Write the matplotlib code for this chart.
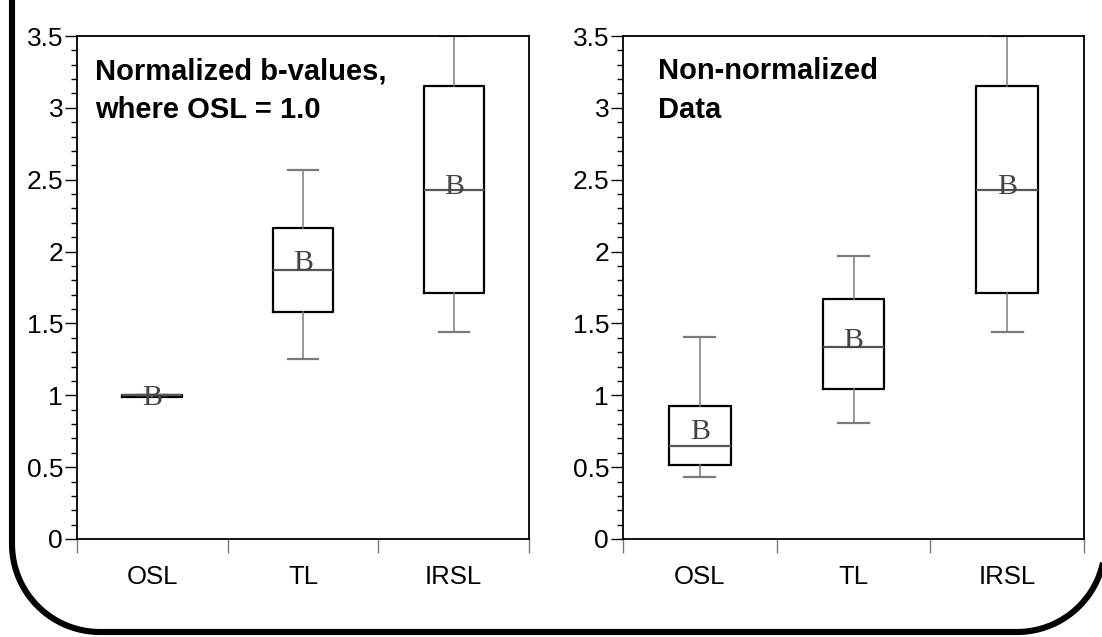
import matplotlib
matplotlib.use("Agg")
import numpy as np
import matplotlib.pyplot as plt
from matplotlib.patches import PathPatch
from matplotlib.path import Path
from matplotlib.transforms import IdentityTransform
from matplotlib.ticker import MultipleLocator, FixedLocator, NullFormatter, FixedFormatter

plt.rcParams['font.family'] = ['Liberation Sans', 'DejaVu Sans']

categories = ["OSL", "TL", "IRSL"]

# Panel 1: normalized b-values (OSL = 1.0)
norm_whislo = [1.00, 1.25, 1.44]
norm_q1 = [0.99, 1.58, 1.71]
norm_med = [1.00, 1.87, 2.43]
norm_q3 = [1.00, 2.165, 3.155]
norm_whishi = [1.00, 2.565, 3.50]
norm_mean = [1.00, 1.94, 2.47]

# Panel 2: non-normalized data
raw_whislo = [0.43, 0.81, 1.44]
raw_q1 = [0.515, 1.045, 1.71]
raw_med = [0.65, 1.335, 2.43]
raw_q3 = [0.925, 1.67, 3.155]
raw_whishi = [1.405, 1.97, 3.50]
raw_mean = [0.765, 1.40, 2.47]

titles = ["Normalized b-values,\nwhere OSL = 1.0", "Non-normalized\nData"]
yticks = [0, 0.5, 1, 1.5, 2, 2.5, 3, 3.5]
ytick_labels = ["0", "0.5", "1", "1.5", "2", "2.5", "3", "3.5"]

W, H = 1102, 637
fig = plt.figure(figsize=(W / 100, H / 100), dpi=100)

ax_rects = [
    (77 / W, 1 - 539 / H, 452 / W, 503 / H),
    (623 / W, 1 - 539 / H, 461 / W, 503 / H),
]
title_x = [18 / 452, 35 / 461]

panels = [
    (norm_whislo, norm_q1, norm_med, norm_q3, norm_whishi, norm_mean),
    (raw_whislo, raw_q1, raw_med, raw_q3, raw_whishi, raw_mean),
]

for i, (rect, data) in enumerate(zip(ax_rects, panels)):
    ax = fig.add_axes(rect)
    lo, q1, med, q3, hi, mean = data
    stats = []
    for k, name in enumerate(categories):
        stats.append(dict(label=name, whislo=lo[k], q1=q1[k], med=med[k],
                          q3=q3[k], whishi=hi[k], fliers=[]))
    positions = [k + 0.5 for k in range(len(categories))]
    ax.bxp(stats, positions=positions, widths=0.4, showfliers=False,
           boxprops=dict(color='black', linewidth=1.6),
           medianprops=dict(color='#555555', linewidth=1.6),
           whiskerprops=dict(color='#7a7a7a', linewidth=1.1),
           capprops=dict(color='#7a7a7a', linewidth=1.6),
           capwidths=0.2, manage_ticks=False)
    for k in range(len(categories)):
        ax.text(positions[k], mean[k], "B", ha='center', va='center_baseline',
                fontsize=21.5, color='#444444', family=['Liberation Serif', 'DejaVu Serif'],
                zorder=5)
    ax.set_xlim(0, 3)
    ax.set_ylim(0, 3.5)
    # y axis
    ax.yaxis.set_major_locator(FixedLocator(yticks))
    ax.yaxis.set_major_formatter(FixedFormatter(ytick_labels))
    ax.yaxis.set_minor_locator(MultipleLocator(0.1))
    ax.tick_params(axis='y', which='major', direction='out', length=9, width=1.0,
                   labelsize=19, pad=1, colors='black')
    ax.tick_params(axis='y', which='minor', direction='out', length=4.5, width=1.0,
                   colors='black')
    # x axis: boundaries as major ticks, labels at category centers
    ax.xaxis.set_major_locator(FixedLocator([0, 1, 2, 3]))
    ax.xaxis.set_major_formatter(NullFormatter())
    ax.xaxis.set_minor_locator(FixedLocator(positions))
    ax.xaxis.set_minor_formatter(FixedFormatter(categories))
    ax.tick_params(axis='x', which='major', direction='out', length=10, width=1.0,
                   color='#777777')
    ax.tick_params(axis='x', which='minor', length=0, labelsize=18.5, pad=18.5)
    for s in ax.spines.values():
        s.set_linewidth(1.3)
        s.set_color('black')
    ax.text(title_x[i], 0.958, titles[i], transform=ax.transAxes, ha='left', va='top',
            fontsize=21, fontweight='bold', linespacing=1.5)

# Rounded outer frame, open at the top (pixel coordinates, y measured from top)
xl, xr, yb, r = 12, 1105, 632, 88
t1 = np.linspace(np.pi, 1.5 * np.pi, 30)
t2 = np.linspace(1.5 * np.pi, 2 * np.pi, 30)
pts = [(xl, -20), (xl, yb - r)]
pts += [(xl + r + r * np.cos(t), yb - r - r * np.sin(t)) for t in t1]
pts += [(xr - r + r * np.cos(t), yb - r - r * np.sin(t)) for t in t2]
pts += [(xr, yb - r), (xr, -20)]
verts = [(x, H - y) for x, y in pts]
frame = PathPatch(Path(verts), transform=IdentityTransform(), fill=False,
                  edgecolor='black', linewidth=4.4, clip_on=False,
                  joinstyle='round', capstyle='butt')
fig.add_artist(frame)

fig.savefig("out.png", dpi=100)
